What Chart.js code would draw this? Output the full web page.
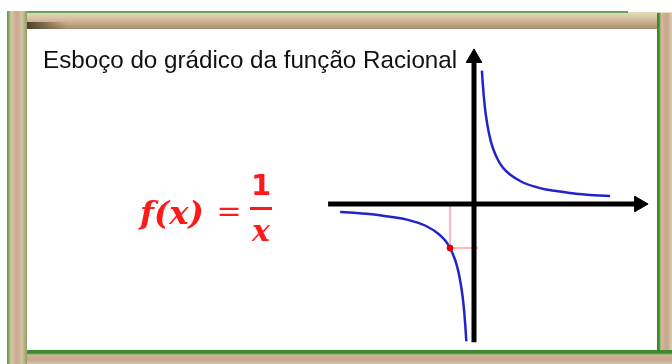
<!DOCTYPE html>
<html>
<head>
<meta charset="utf-8">
<script src="https://cdn.jsdelivr.net/npm/chart.js@4.4.1/dist/chart.umd.min.js"></script>
<style>
  html, body { margin: 0; padding: 0; background: #fff; }
  #wrap { position: relative; width: 672px; height: 364px; overflow: hidden; }
  .band { position: absolute; }
  #topLine { left: 7px; top: 11px; width: 621px; height: 2px; background: #6aa255; }
  #topBand { left: 7px; top: 12px; width: 665px; height: 17px;
    background: linear-gradient(to bottom, #dfe0b8 0px, #d9c8a8 5px, #cdb094 10px, #b89c78 14px, #a08a66 17px); }
  #corner { left: 27px; top: 22px; width: 40px; height: 7px;
    background: linear-gradient(to right, #4e4028, rgba(110,90,60,0)); }
  #leftBand { left: 7px; top: 11px; width: 20px; height: 353px;
    background: linear-gradient(to right, #5f9c4c 0px, #7fae66 2px, #d9c7a6 4px, #c9a68f 10px, #d4c4a0 15px, #8e9c64 20px); }
  #rightBand { left: 657px; top: 13px; width: 15px; height: 351px;
    background: linear-gradient(to right, #3b8a2c 0px, #3b8a2c 2px, #d2bb9b 4px, #c7a68d 10px, #dccbab 15px); }
  #bottomBand { left: 7px; top: 350px; width: 665px; height: 14px;
    background: linear-gradient(to bottom, #3b8a2c 0px, #3b8a2c 3px, #cdb695 5px, #c7a78e 10px, #d8c8a8 14px); }
  #paper { position: absolute; left: 27px; top: 29px; width: 630px; height: 321px; background: #fff; }
  canvas { position: absolute; left: 0; top: 0; }
</style>
</head>
<body>
<div id="wrap">
  <div class="band" id="topBand"></div>
  <div class="band" id="corner"></div>
  <div class="band" id="topLine"></div>
  <div class="band" id="rightBand"></div>
  <div class="band" id="bottomBand"></div>
  <div class="band" id="leftBand"></div>
  <div id="paper"></div>
  <canvas id="graph" width="672" height="364"></canvas>
</div>
<script>
// f(x) = 1/x, readings along each branch
var leftX  = [-5.58, -5, -4.5, -4, -3.5, -3, -2.5, -2, -1.5, -1.2, -1, -0.8, -0.7, -0.6, -0.5, -0.45, -0.4, -0.36, -0.32];
var leftY  = [-0.18, -0.2, -0.22, -0.25, -0.29, -0.33, -0.4, -0.5, -0.67, -0.83, -1, -1.25, -1.43, -1.67, -2, -2.22, -2.5, -2.78, -3.12];
var rightX = [0.33, 0.36, 0.4, 0.45, 0.5, 0.6, 0.7, 0.8, 1, 1.2, 1.5, 2, 2.5, 3, 3.5, 4, 4.5, 5, 5.67];
var rightY = [3.03, 2.78, 2.5, 2.22, 2, 1.67, 1.43, 1.25, 1, 0.83, 0.67, 0.5, 0.4, 0.33, 0.29, 0.25, 0.22, 0.2, 0.18];

// marked point and its guide lines
var markX = [-1];
var markY = [-1];
var guideX = [-1, -1, 0.17];
var guideY = [0, -1, -1];

// axis extents (the last point carries the arrowhead)
var xAxisX = [-6.08, 6.88];
var xAxisY = [0, 0];
var yAxisX = [0, 0];
var yAxisY = [-3.14, 3.32];

var titleText = "Esboço do grádico da função Racional";

function pts(xs, ys) {
  return xs.map(function(x, i){ return {x: x, y: ys[i]}; });
}

// sets font size so that text spans the given width
function fitFont(c, text, style, family, width) {
  c.font = style + ' 20px ' + family;
  var size = 20 * width / c.measureText(text).width;
  c.font = style + ' ' + size.toFixed(1) + 'px ' + family;
}

var labels = {
  id: "labels",
  afterDraw: function(chart){
    var c = chart.ctx;
    c.save();
    c.textBaseline = "alphabetic";
    c.textAlign = "left";

    c.fillStyle = "#111";
    fitFont(c, titleText, "", '"Liberation Sans"', 414);
    c.fillText(titleText, 43, 68);

    c.fillStyle = "#ff1a1a";
    fitFont(c, "f(x)", "italic bold", '"DejaVu Serif"', 64);
    c.fillText("f(x)", 140, 224);

    c.font = '30px "DejaVu Serif"';
    c.textAlign = "center";
    c.fillText("=", 229, 221);

    c.font = 'bold 29px "DejaVu Sans"';
    c.fillText("1", 261, 195);
    c.fillRect(250, 207, 22, 3);
    c.font = 'italic bold 30px "DejaVu Serif"';
    c.fillText("x", 261, 241);
    c.restore();
  }
};

new Chart(document.getElementById("graph"), {
  type: "line",
  data: {
    datasets: [
      {
        label: "ponto",
        data: pts(markX, markY),
        showLine: false,
        pointRadius: 3,
        pointBackgroundColor: "#e00000",
        pointBorderColor: "#e00000"
      },
      {
        label: "eixo x",
        data: pts(xAxisX, xAxisY),
        borderColor: "#000",
        borderWidth: 5,
        pointRadius: [0, 9],
        pointStyle: "triangle",
        pointRotation: 90,
        pointBackgroundColor: "#000",
        pointBorderColor: "#000",
        pointBorderWidth: 1
      },
      {
        label: "eixo y",
        data: pts(yAxisX, yAxisY),
        borderColor: "#000",
        borderWidth: 5,
        pointRadius: [0, 9],
        pointStyle: "triangle",
        pointRotation: 0,
        pointBackgroundColor: "#000",
        pointBorderColor: "#000",
        pointBorderWidth: 1
      },
      {
        label: "guia",
        data: pts(guideX, guideY),
        borderColor: "rgba(255,150,150,0.9)",
        borderWidth: 1.5,
        pointRadius: 0
      },
      {
        label: "x < 0",
        data: pts(leftX, leftY),
        borderColor: "#2323cc",
        borderWidth: 2.5,
        pointRadius: 0,
        cubicInterpolationMode: "monotone"
      },
      {
        label: "x > 0",
        data: pts(rightX, rightY),
        borderColor: "#2323cc",
        borderWidth: 2.5,
        pointRadius: 0,
        cubicInterpolationMode: "monotone"
      }
    ]
  },
  options: {
    responsive: false,
    animation: false,
    layout: { padding: 0, autoPadding: false },
    plugins: { legend: { display: false }, tooltip: { enabled: false } },
    scales: {
      x: { type: "linear", min: -19.75, max: 8.25, display: false },
      y: { type: "linear", min: -3.636, max: 4.636, display: false }
    }
  },
  plugins: [labels]
});
</script>
</body>
</html>
